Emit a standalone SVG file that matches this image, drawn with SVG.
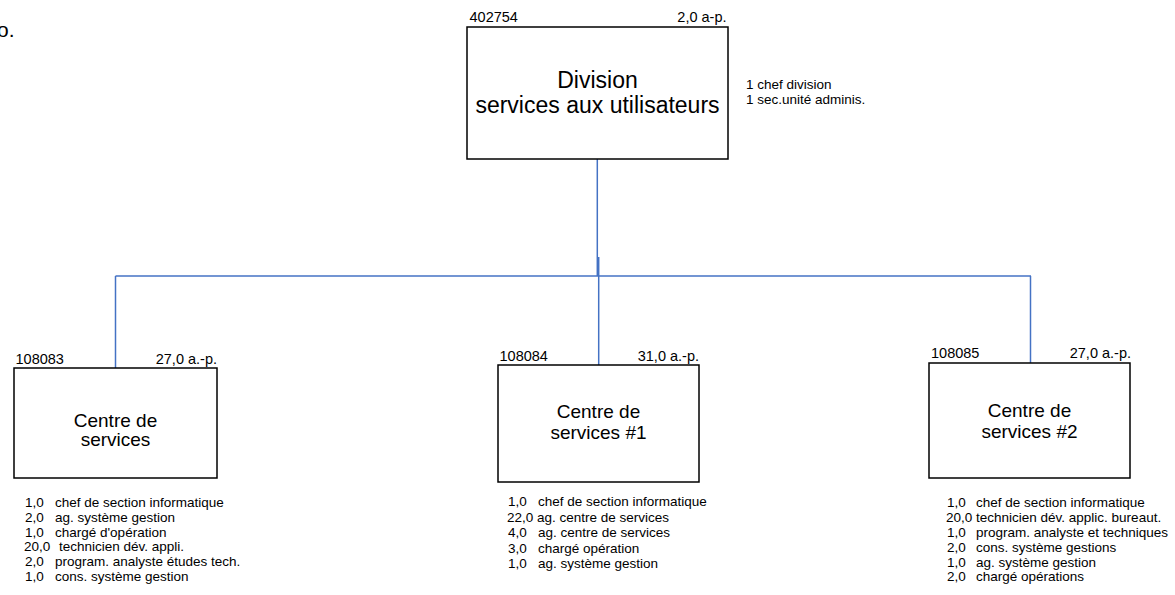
<svg xmlns="http://www.w3.org/2000/svg" width="1175" height="595" viewBox="0 0 1175 595">
<style>
text{font-family:"Liberation Sans",Arial,sans-serif;fill:#000}
.box{fill:#fff;stroke:#000;stroke-width:1.5}
.code{font-size:14.5px}
.ap{font-size:14.5px;text-anchor:end}
.title{font-size:23px;text-anchor:middle}
.name{font-size:19px;text-anchor:middle}
.list{font-size:13.5px}
.conn{fill:none;stroke:#4472C4;stroke-width:1.5}
</style>
<rect width="1175" height="595" fill="#fff"/>
<text x="-3" y="37" style="font-size:21px">o.</text>
<g id="connectors">
<path class="conn" d="M597.3 159 V276"/>
<path class="conn" d="M598.7 257 V365"/>
<path class="conn" d="M115.5 276 H1031"/>
<path class="conn" d="M115.5 276 V368"/>
<path class="conn" d="M1030.5 276 V363"/>
</g>
<g id="division">
<rect class="box" x="467" y="27" width="261" height="132"/>
<text class="code" x="469.5" y="21.5">402754</text>
<text class="ap" x="726.5" y="21.5">2,0 a-p.</text>
<text class="title" x="597.5" y="88">Division</text>
<text class="title" x="597.5" y="113">services aux utilisateurs</text>
<text class="list" x="746" y="89">1 chef division</text>
<text class="list" x="746" y="104">1 sec.unité adminis.</text>
</g>
<g id="centre0">
<rect class="box" x="14" y="368" width="203" height="110"/>
<text class="code" x="15.5" y="363.5">108083</text>
<text class="ap" x="217" y="363.5">27,0 a.-p.</text>
<text class="name" x="115.5" y="427">Centre de</text>
<text class="name" x="115.5" y="446">services</text>
<text class="list"><tspan x="25" y="507">1,0</tspan><tspan x="55" y="507">chef de section informatique</tspan><tspan x="25" y="522">2,0</tspan><tspan x="55" y="522">ag. système gestion</tspan><tspan x="25" y="536.5">1,0</tspan><tspan x="55" y="536.5">chargé d'opération</tspan><tspan x="24" y="551">20,0</tspan><tspan x="59" y="551">technicien dév. appli.</tspan><tspan x="25" y="566">2,0</tspan><tspan x="55" y="566">program. analyste études tech.</tspan><tspan x="25" y="580.5">1,0</tspan><tspan x="55" y="580.5">cons. système gestion</tspan></text>
</g>
<g id="centre1">
<rect class="box" x="498" y="365" width="201" height="117"/>
<text class="code" x="499.5" y="361">108084</text>
<text class="ap" x="699" y="361">31,0 a.-p.</text>
<text class="name" x="598.5" y="418">Centre de</text>
<text class="name" x="598.5" y="439">services #1</text>
<text class="list"><tspan x="508" y="506">1,0</tspan><tspan x="538" y="506">chef de section informatique</tspan><tspan x="507" y="521.5">22,0 ag. centre de services</tspan><tspan x="508" y="537">4,0</tspan><tspan x="538" y="537">ag. centre de services</tspan><tspan x="508" y="552.5">3,0</tspan><tspan x="538" y="552.5">chargé opération</tspan><tspan x="508" y="568">1,0</tspan><tspan x="538" y="568">ag. système gestion</tspan></text>
</g>
<g id="centre2">
<rect class="box" x="929" y="363" width="201" height="115"/>
<text class="code" x="931" y="358">108085</text>
<text class="ap" x="1131" y="358">27,0 a.-p.</text>
<text class="name" x="1029.5" y="417">Centre de</text>
<text class="name" x="1029.5" y="438">services #2</text>
<text class="list"><tspan x="947" y="507">1,0</tspan><tspan x="976" y="507">chef de section informatique</tspan><tspan x="946" y="522">20,0 technicien dév. applic. bureaut.</tspan><tspan x="947" y="537">1,0</tspan><tspan x="976" y="537">program. analyste et techniques</tspan><tspan x="947" y="552">2,0</tspan><tspan x="976" y="552">cons. système gestions</tspan><tspan x="947" y="566.5">1,0</tspan><tspan x="976" y="566.5">ag. système gestion</tspan><tspan x="947" y="581">2,0</tspan><tspan x="976" y="581">chargé opérations</tspan></text>
</g>
</svg>
